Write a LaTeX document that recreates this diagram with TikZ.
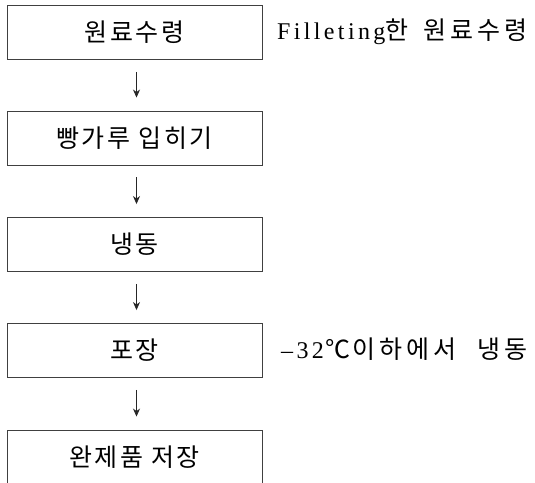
\documentclass[tikz,border=0pt]{standalone}
\usepackage{fontspec}
\setmainfont{Liberation Serif}[LetterSpace=14]
\newfontfamily\kr{Noto Sans CJK KR}[LetterSpace=10]
\newfontfamily\krwide{Noto Sans CJK KR}[LetterSpace=15]
\usetikzlibrary{arrows.meta}
\begin{document}
\begin{tikzpicture}[x=1pt,y=-1pt,
  stepbox/.style={draw=black!75, line width=0.9pt, minimum width=255pt, minimum height=54pt, inner sep=0pt, font=\kr\fontsize{25}{28}\selectfont},
  side/.style={anchor=base west, inner sep=0pt, font=\fontsize{24}{26}\selectfont},
  flow/.style={draw=black!85, line width=0.8pt, -{Stealth[length=8pt,width=7pt,inset=2.5pt]}, shorten >=13pt, shorten <=12pt}]
\useasboundingbox (0,0) rectangle (535,482);
\node[stepbox] (b1) at (134.5,32.5) {원료수령};
\node[stepbox] (b2) at (134.5,138) {빵가루 입히기};
\node[stepbox] (b3) at (134.5,244.5) {냉동};
\node[stepbox] (b4) at (134.5,350.5) {포장};
\node[stepbox] (b5) at (134.5,457) {완제품 저장};
\node[side] (s1) at (277,39) {Filleting{\krwide\fontsize{25}{28}\selectfont 한\hspace{6pt} 원료수령}};
\node[side] (s4) at (281,358) {–32\hspace{2pt}{\krwide\fontsize{25}{28}\selectfont ℃\hspace{2pt}이하에서\hspace{12pt} 냉동}};
\draw[flow] ([xshift=2pt]b1.south) -- ([xshift=2pt]b2.north);
\draw[flow] ([xshift=2pt]b2.south) -- ([xshift=2pt]b3.north);
\draw[flow] ([xshift=2pt]b3.south) -- ([xshift=2pt]b4.north);
\draw[flow] ([xshift=2pt]b4.south) -- ([xshift=2pt]b5.north);
\end{tikzpicture}
\end{document}
